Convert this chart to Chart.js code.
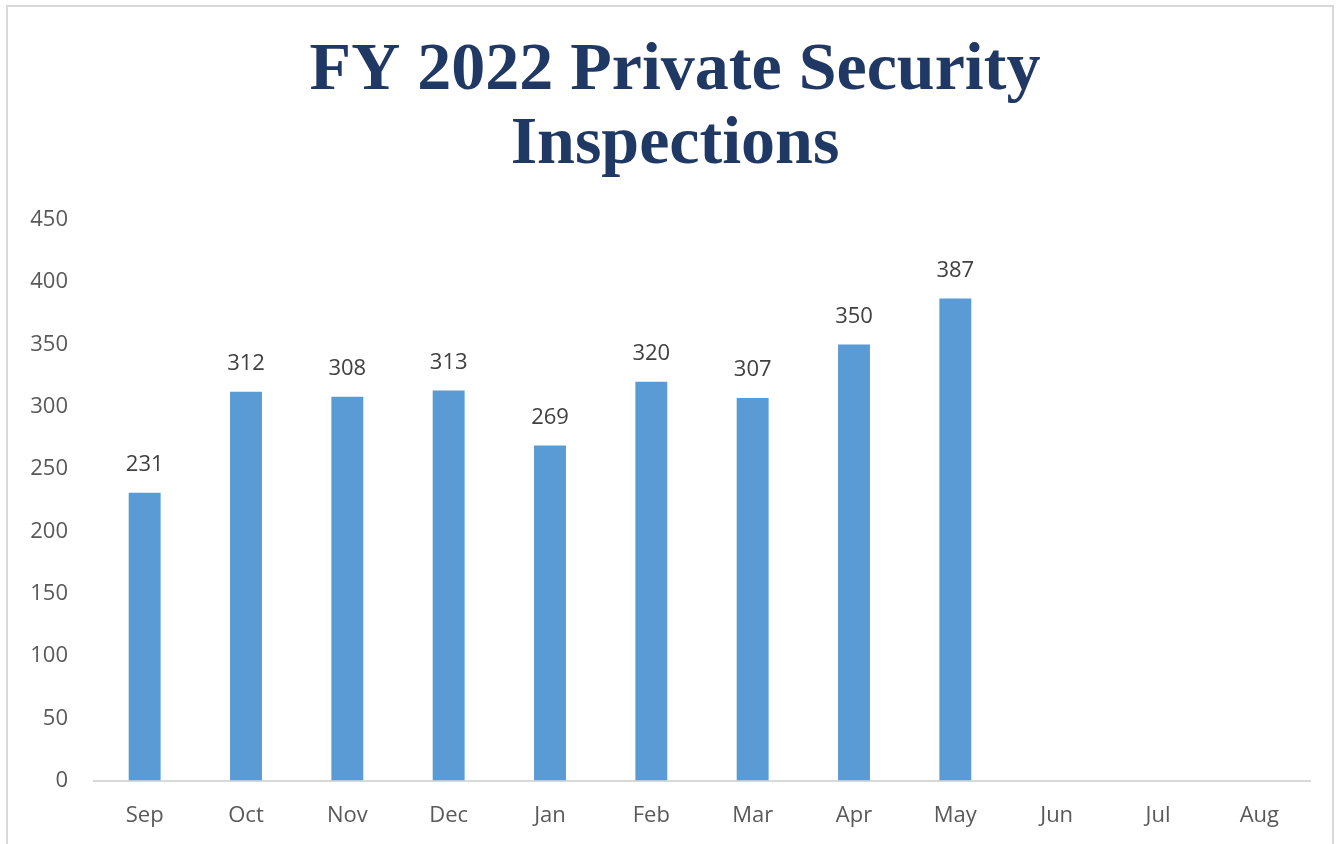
<!DOCTYPE html>
<html>
<head>
<meta charset="utf-8">
<script src="https://cdn.jsdelivr.net/npm/chart.js@4"></script>
<style>
  html, body { margin: 0; padding: 0; background: #fff; }
  body { width: 1344px; height: 844px; position: relative; overflow: hidden; }
  #frame { position: absolute; left: 6px; top: 5px; width: 1328px; height: 860px; border: 2px solid #d9d9d9; box-sizing: border-box; }
  #wrap { position: absolute; left: 0; top: 0; width: 1344px; height: 867px; }
</style>
</head>
<body>
<div id="frame"></div>
<div id="wrap"><canvas id="chart"></canvas></div>
<script>
// data
const months = ['Sep', 'Oct', 'Nov', 'Dec', 'Jan', 'Feb', 'Mar', 'Apr', 'May', 'Jun', 'Jul', 'Aug'];
const inspections = [231, 312, 308, 313, 269, 320, 307, 350, 387, null, null, null];
const titleLines = ['FY 2022 Private Security', 'Inspections'];

// value labels above each bar
const barLabels = {
  id: 'barLabels',
  afterDatasetsDraw(chart) {
    const c = chart.ctx;
    const meta = chart.getDatasetMeta(0);
    c.save();
    c.font = "22px 'Open Sans'";
    c.fillStyle = '#404040';
    c.textAlign = 'center';
    c.textBaseline = 'bottom';
    meta.data.forEach((bar, i) => {
      const v = inspections[i];
      if (v == null) return;
      c.fillText(String(v), bar.x, bar.y - 17);
    });
    c.restore();
  }
};

// title is centred on the whole frame, not on the plot area
const shiftTitle = {
  id: 'shiftTitle',
  afterLayout(chart) {
    const t = chart.titleBlock;
    if (!t) return;
    t.left += 20;
    t.right += 20;
  }
};

new Chart(document.getElementById('chart'), {
  type: 'bar',
  data: {
    labels: months,
    datasets: [{
      data: inspections,
      backgroundColor: '#5B9BD5',
      borderWidth: 0,
      barPercentage: 0.315,
      categoryPercentage: 1
    }]
  },
  options: {
    responsive: true, maintainAspectRatio: false,
    animation: false,
    layout: { padding: { left: 0, right: 34, top: 0, bottom: 16 } },
    plugins: {
      legend: { display: false },
      tooltip: { enabled: false },
      title: {
        display: true,
        text: titleLines,
        color: '#1F3864',
        font: { family: "'Liberation Serif'", size: 68, weight: 'bold', lineHeight: 1.08 },
        padding: { top: 35, bottom: 38 }
      }
    },
    scales: {
      x: {
        grid: { display: false, drawTicks: false },
        border: { display: true, color: '#d9d9d9', width: 2 },
        ticks: { color: '#595959', font: { family: "'Open Sans'", size: 22 }, padding: 22 }
      },
      y: {
        min: 0, max: 450,
        grid: { display: false, drawTicks: false },
        border: { display: false },
        ticks: { stepSize: 50, color: '#595959', font: { family: "'Open Sans'", size: 22 }, padding: 26 },
        afterFit(scale) { scale.width = 94; }
      }
    }
  },
  plugins: [barLabels, shiftTitle]
});
</script>
</body>
</html>
